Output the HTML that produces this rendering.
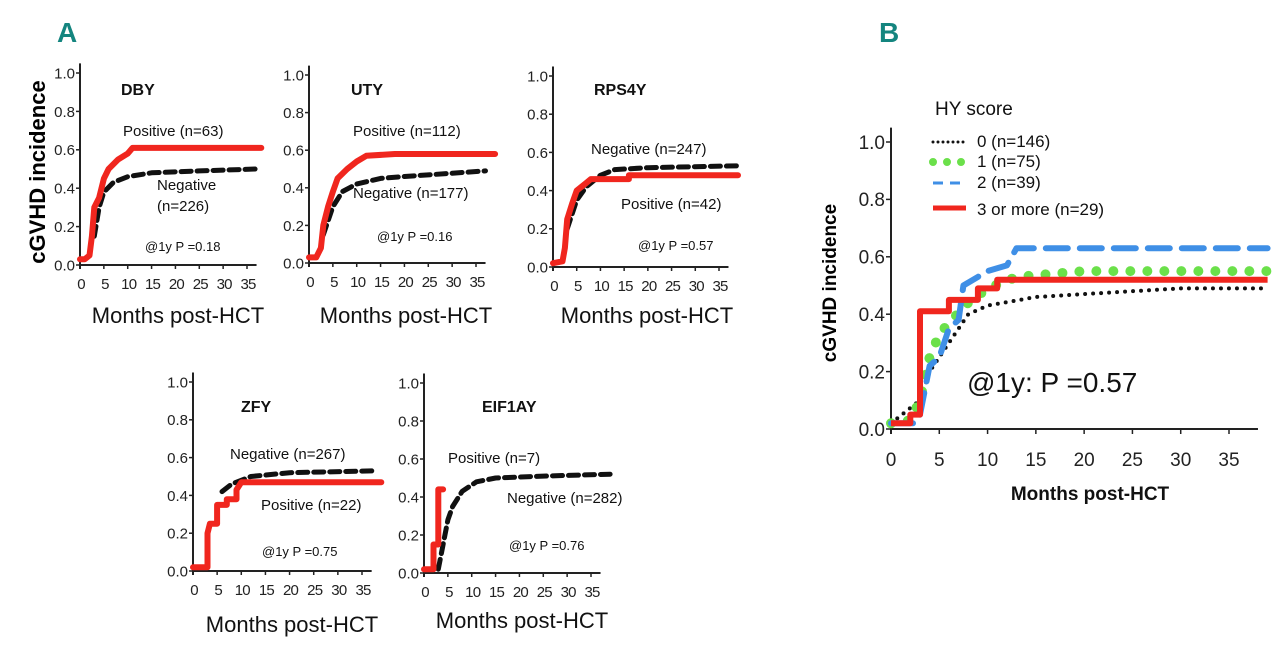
<!DOCTYPE html>
<html><head><meta charset="utf-8"><style>
html,body{margin:0;padding:0;background:#fff;width:1280px;height:649px;overflow:hidden}
svg{display:block;font-family:"Liberation Sans",Arial,sans-serif}
</style></head><body>
<svg id="fig" width="1280" height="649" viewBox="0 0 1280 649" xmlns="http://www.w3.org/2000/svg">
<text x="57" y="42" font-size="28" font-weight="bold" fill="#14857f" font-family="Liberation Sans Narrow,Liberation Sans,sans-serif">A</text>
<text x="879" y="42" font-size="28" font-weight="bold" fill="#14857f" font-family="Liberation Sans Narrow,Liberation Sans,sans-serif">B</text>
<text transform="translate(45,172) rotate(-90)" text-anchor="middle" font-size="22" font-weight="bold">cGVHD  incidence</text>
<text transform="translate(836,283) rotate(-90)" text-anchor="middle" font-size="19" font-weight="bold">cGVHD incidence</text>
</svg>
<script>
// ---- data (months, incidence) ----
const dbyPosX=[0,1,2,2.5,3,4,5,6,8,10,11,38];
const dbyPosY=[0.03,0.03,0.05,0.15,0.3,0.35,0.45,0.5,0.55,0.58,0.61,0.61];
const dbyNegX=[3,4,5,7,10,15,25,37];
const dbyNegY=[0.15,0.3,0.38,0.43,0.46,0.48,0.49,0.5];
const utyPosX=[0,1.5,2.5,3,4,5,6,8,10,12,18,39];
const utyPosY=[0.03,0.03,0.08,0.2,0.3,0.38,0.45,0.5,0.54,0.57,0.58,0.58];
const utyNegX=[3,5,7,10,15,20,37];
const utyNegY=[0.15,0.3,0.38,0.42,0.45,0.46,0.49];
const rpsPosX=[0,2,2.5,3,4,5,7,8,16,16,39];
const rpsPosY=[0.02,0.03,0.1,0.25,0.33,0.4,0.44,0.46,0.46,0.48,0.48];
const rpsNegX=[3,5,7,10,13,20,39];
const rpsNegY=[0.2,0.35,0.42,0.48,0.51,0.52,0.53];
const zfyPosX=[0,3,3,3.5,5,5,7,7,9,9,10,39];
const zfyPosY=[0.02,0.02,0.2,0.25,0.25,0.35,0.35,0.38,0.38,0.43,0.47,0.47];
const zfyNegX=[6,8,12,20,38];
const zfyNegY=[0.42,0.46,0.5,0.52,0.53];
const eifPosX=[0,2,2,3,3,4];
const eifPosY=[0.02,0.02,0.15,0.15,0.44,0.44];
const eifNegX=[3,4,5,6,8,11,15,25,39];
const eifNegY=[0.02,0.15,0.28,0.35,0.43,0.48,0.5,0.51,0.52];
const b0X=[0,3,4,6,8,10,15,20,25,30,39];
const b0Y=[0.02,0.1,0.2,0.3,0.4,0.43,0.46,0.47,0.48,0.49,0.49];
const b1X=[0,2,3,4,5,6,8,10,13,20,39];
const b1Y=[0.02,0.03,0.1,0.25,0.33,0.37,0.44,0.49,0.53,0.55,0.55];
const b2X=[0,2.5,3,4,5,6,7,7.5,9,10,12,13,39];
const b2Y=[0.02,0.02,0.05,0.22,0.25,0.35,0.38,0.5,0.53,0.55,0.57,0.63,0.63];
const b3X=[0,2,2,3,3,6,6,9,9,11,11,39];
const b3Y=[0.02,0.02,0.05,0.05,0.41,0.41,0.45,0.45,0.49,0.49,0.52,0.52];
const yTicks=[0,0.2,0.4,0.6,0.8,1.0];
const yTickLabels=["0.0","0.2","0.4","0.6","0.8","1.0"];
const xTicks=[0,5,10,15,20,25,30,35];
const xTickLabels=["0","5","10","15","20","25","30","35"];

const NS="http://www.w3.org/2000/svg";
const svg=document.getElementById('fig');
function mk(tag,attrs,parent,text){const e=document.createElementNS(NS,tag);for(const k in attrs)e.setAttribute(k,attrs[k]);if(text!==undefined)e.textContent=text;(parent||svg).appendChild(e);return e;}

function panel(cfg){
  const g=mk('g',{});
  
  
  const sx=m=>cfg.ax+m*(cfg.x35-cfg.ax)/35;
  const sy=v=>cfg.y0-v*(cfg.y0-cfg.y1);
  const ya=mk('line',{x1:cfg.ax,y1:sy(1.05),x2:cfg.ax,y2:cfg.y0+cfg.tl,stroke:'#222','stroke-width':2},g);
  
  
  const xa=mk('line',{x1:cfg.ax,y1:cfg.y0,x2:sx(cfg.xend),y2:cfg.y0,stroke:'#222','stroke-width':2},g);
  
  
  yTicks.forEach((v,i)=>{
    mk('line',{x1:cfg.ax-cfg.tl,y1:sy(v),x2:cfg.ax,y2:sy(v),stroke:'#222','stroke-width':1.5},g);
    const t=mk('text',{x:cfg.ax-cfg.tl-1,y:sy(v)+cfg.fs*0.36,'text-anchor':'end','font-size':cfg.fs,fill:'#222'},g,yTickLabels[i]);
    
    
  });
  xTicks.forEach((m,i)=>{
    mk('line',{x1:sx(m),y1:cfg.y0,x2:sx(m),y2:cfg.y0+cfg.tl,stroke:'#222','stroke-width':1.5},g);
    const t=mk('text',{x:sx(m)+(cfg.big?0:1),y:cfg.y0+cfg.xly,'text-anchor':'middle','font-size':cfg.fs,fill:'#222','letter-spacing':cfg.big?0:-0.8},g,xTickLabels[i]);
    
    
  });
  cfg.series.forEach(s=>{
    const pts=s.x.map((m,i)=>sx(m).toFixed(1)+','+sy(s.y[i]).toFixed(1)).join(' ');
    const p=mk('polyline',{points:pts,fill:'none',stroke:s.color,'stroke-width':s.w,'stroke-dasharray':s.dash||'none','stroke-linecap':s.cap||'round','stroke-linejoin':'round'},g);
    
    
  });
  cfg.texts.forEach(t=>{
    const e=mk('text',{x:t[0],y:t[1],'font-size':t[3],'font-weight':t[4]||'normal','text-anchor':t[5]||'start',fill:'#111'},g,t[2]);
    
    
  });
}
const R='#f0261e', K='#111';
function small(name,ax,y0,y1,x35,pX,pY,nX,nY,texts){
  panel({name:name,ax:ax,y0:y0,y1:y1,x35:x35,xend:37,tl:4,fs:15,xly:24,big:false,
    series:[{name:'negative-curve',x:nX,y:nY,color:K,w:5,dash:'10 6',cap:'round'},
            {name:'positive-curve',x:pX,y:pY,color:R,w:6}],texts:texts});
}
small('dby-panel',80,265,73,247,dbyPosX,dbyPosY,dbyNegX,dbyNegY,[
 [121,95,'DBY',16,'bold','start','panel-title'],[123,136,'Positive (n=63)',15],[157,190,'Negative',15],[157,211,'(n=226)',15],
 [145,251,'@1y P =0.18',13],[178,323,'Months post-HCT',22,'normal','middle','x-axis-title']]);
small('uty-panel',309,263,75,476,utyPosX,utyPosY,utyNegX,utyNegY,[
 [351,95,'UTY',16,'bold','start','panel-title'],[353,136,'Positive (n=112)',15],[353,198,'Negative (n=177)',15],
 [377,241,'@1y P =0.16',13],[406,323,'Months post-HCT',22,'normal','middle','x-axis-title']]);
small('rps4y-panel',553,267,76,719,rpsPosX,rpsPosY,rpsNegX,rpsNegY,[
 [594,95,'RPS4Y',16,'bold','start','panel-title'],[591,154,'Negative (n=247)',15],[621,209,'Positive (n=42)',15],
 [638,250,'@1y P =0.57',13],[647,323,'Months post-HCT',22,'normal','middle','x-axis-title']]);
small('zfy-panel',193,571,382,362,zfyPosX,zfyPosY,zfyNegX,zfyNegY,[
 [241,412,'ZFY',16,'bold','start','panel-title'],[230,459,'Negative (n=267)',15],[261,510,'Positive (n=22)',15],
 [262,556,'@1y P =0.75',13],[292,632,'Months post-HCT',22,'normal','middle','x-axis-title']]);
small('eif1ay-panel',424,573,383,591,eifPosX,eifPosY,eifNegX,eifNegY,[
 [482,412,'EIF1AY',16,'bold','start','panel-title'],[448,463,'Positive (n=7)',15],[507,503,'Negative (n=282)',15],
 [509,550,'@1y P =0.76',13],[522,628,'Months post-HCT',22,'normal','middle','x-axis-title']]);
panel({name:'hy-score-panel',ax:891,y0:429,y1:142,x35:1229,xend:38,tl:5,fs:19,xly:37,big:true,
  series:[{name:'hy-0-curve',x:b0X,y:b0Y,color:K,w:4,dash:'0 8'},
          {name:'hy-1-curve',x:b1X,y:b1Y,color:'#6be04a',w:10,dash:'0 17'},
          {name:'hy-2-curve',x:b2X,y:b2Y,color:'#3f8fe6',w:6,dash:'22 12'},
          {name:'hy-3plus-curve',x:b3X,y:b3Y,color:R,w:6,cap:'butt'}],
  texts:[[935,115,'HY score',19,'normal','start','legend-title'],[977,147,'0 (n=146)',17,'normal','start','legend-entry'],
   [977,167,'1 (n=75)',17,'normal','start','legend-entry'],[977,188,'2 (n=39)',17,'normal','start','legend-entry'],
   [977,215,'3 or more (n=29)',17,'normal','start','legend-entry'],[967,392,'@1y: P =0.57',28,'normal','start','p-value'],
   [1090,500,'Months post-HCT',19,'bold','middle','x-axis-title']]});
// legend swatches
const sw=[[142,K,3,'0 5'],[162,'#6be04a',8,'0 14'],[183,'#3f8fe6',3,'10 7'],[208,R,5,'none']];
sw.forEach(s=>{
  const l=mk('line',{x1:933,y1:s[0],x2:966,y2:s[0],stroke:s[1],'stroke-width':s[2],'stroke-dasharray':s[3],'stroke-linecap':s[3]==='none'?'butt':(s[3].startsWith('0')?'round':'butt')});
  
  
});
</script>
</body></html>
